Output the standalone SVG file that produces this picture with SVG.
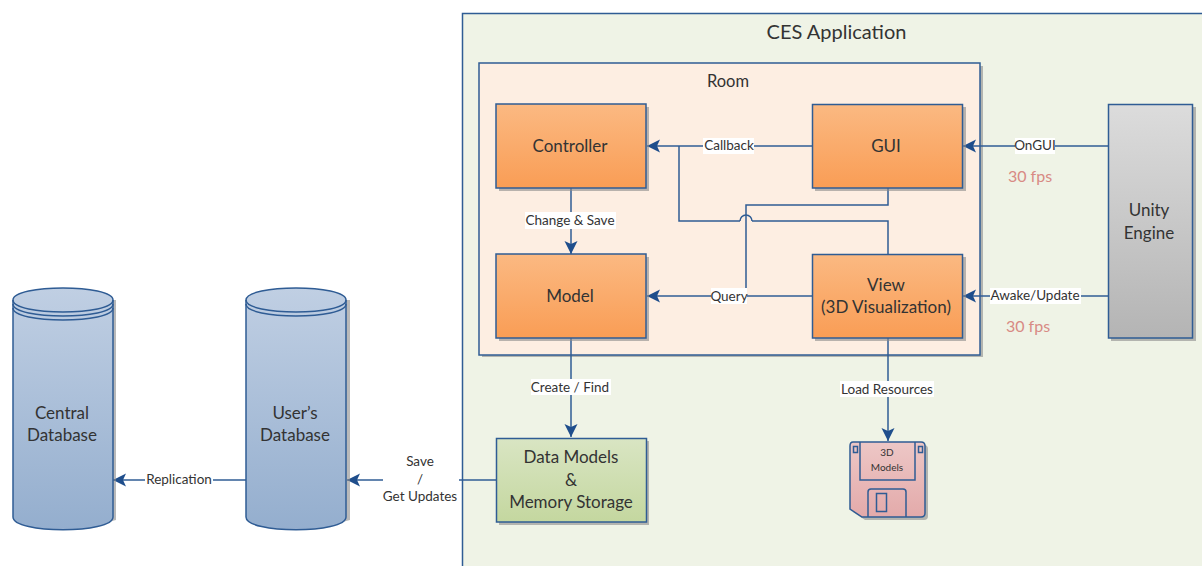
<svg xmlns="http://www.w3.org/2000/svg" width="1202" height="566" viewBox="0 0 1202 566">
<defs>
<linearGradient id="or" x1="0" y1="0" x2="0" y2="1"><stop offset="0" stop-color="#fbb982"/><stop offset="1" stop-color="#f99d55"/></linearGradient>
<linearGradient id="gr" x1="0" y1="0" x2="0" y2="1"><stop offset="0" stop-color="#dcdcdc"/><stop offset="1" stop-color="#b4b4b4"/></linearGradient>
<linearGradient id="bl" x1="0" y1="0" x2="0" y2="1"><stop offset="0" stop-color="#c0cfe3"/><stop offset="1" stop-color="#94aece"/></linearGradient>
<linearGradient id="gn" x1="0" y1="0" x2="0" y2="1"><stop offset="0" stop-color="#d9e5c3"/><stop offset="1" stop-color="#c4d79f"/></linearGradient>
<linearGradient id="pk" x1="0" y1="0" x2="0" y2="1"><stop offset="0" stop-color="#edc7c6"/><stop offset="1" stop-color="#e3aaaa"/></linearGradient>
<marker id="a" markerUnits="userSpaceOnUse" markerWidth="14" markerHeight="14" refX="13" refY="7" orient="auto"><path d="M0,0.5 L13,7 L0,13.500 L3,7 Z" fill="#1f4e8c"/></marker>
</defs>
<style>
text{font-family:Lato,"Open Sans","Liberation Sans",sans-serif;fill:#333;text-anchor:middle}
.n{font-size:17px}
.l{font-size:13.500px}
.w{fill:#fff}
.b{stroke:#2f5c94;stroke-width:1.500}
.s{fill:#8a8a8a;opacity:.6}
.c{fill:none;stroke:#2f5c94;stroke-width:1.500}
.e{marker-end:url(#a)}
.r{fill:#d88a84;font-size:16px}
</style>
<g id="app"><rect x="462.500" y="13.500" width="760" height="580" fill="#eff3e6" stroke="#2f5c94" stroke-width="1.500"/><text x="836.500" y="39" font-size="20">CES Application</text></g>
<g id="room"><rect x="482" y="66" width="501" height="291" class="s"/><rect x="479" y="63" width="501" height="292" fill="#fdeee2" class="b"/><text x="728" y="87" style="font-size:16.500px">Room</text></g>
<g id="connectors">
<path class="c e" d="M812,146H647"/>
<path class="c" d="M888,254V221H679V146"/>
<path class="c e" d="M812,296H647"/>
<path class="c e" d="M571,188V254"/>
<path class="c e" d="M1108,146H963"/>
<path class="c e" d="M1108,296H963"/>
<path class="c e" d="M571,338V437"/>
<path class="c e" d="M888,338V441"/>
<path class="c e" d="M496,480H347"/>
<path class="c e" d="M246,480H113"/>
<path d="M740,221h12" stroke="#fdeee2" stroke-width="3" fill="none"/>
<path class="c" d="M740,221a6,6 0 0 1 12,0"/>
<path class="c" d="M888,188V205H746V289"/>
</g>
<g id="labels">
<rect x="703" y="138" width="51" height="16" class="w"/><text x="729" y="150" class="l">Callback</text>
<rect x="711" y="288" width="36" height="16" class="w"/><text x="729" y="301" class="l">Query</text>
<rect x="525" y="212" width="91" height="17" class="w"/><text x="570" y="225" class="l">Change &amp; Save</text>
<rect x="1015" y="138" width="40" height="16" class="w"/><text x="1035" y="150" class="l">OnGUI</text>
<rect x="990" y="288" width="91" height="16" class="w"/><text x="1035" y="300" class="l">Awake/Update</text>
<rect x="531" y="379" width="80" height="16" class="w"/><text x="570" y="392" class="l">Create / Find</text>
<rect x="840" y="381" width="94" height="16" class="w"/><text x="887" y="394" class="l">Load Resources</text>
<rect x="145" y="472" width="68" height="16" class="w"/><text x="179" y="484" class="l">Replication</text>
<rect x="383" y="452" width="76" height="56" class="w"/>
<text x="420" y="466" class="l">Save</text><text x="420" y="484" class="l">/</text><text x="420" y="501" class="l">Get Updates</text>
<text x="1030" y="182" class="r">30 fps</text>
<text x="1028" y="332" class="r">30 fps</text>
</g>
<g id="controller"><rect x="499" y="107" width="150" height="84" class="s"/><rect x="496" y="104" width="150" height="84" fill="url(#or)" class="b"/><text x="570" y="152" class="n">Controller</text></g>
<g id="gui"><rect x="815" y="107" width="151" height="84" class="s"/><rect x="812.500" y="104.500" width="150" height="83.500" fill="url(#or)" class="b"/><text x="886" y="152" class="n">GUI</text></g>
<g id="model"><rect x="499" y="257" width="150" height="84" class="s"/><rect x="496" y="254" width="150" height="84" fill="url(#or)" class="b"/><text x="570" y="302" class="n">Model</text></g>
<g id="view"><rect x="815" y="257" width="151" height="84" class="s"/><rect x="812.500" y="254.500" width="150" height="83.500" fill="url(#or)" class="b"/><text x="886" y="291" class="n">View</text><text x="886" y="313" class="n">(3D Visualization)</text></g>
<g id="unity"><rect x="1111" y="107" width="85" height="234" class="s"/><rect x="1108.500" y="104.500" width="84" height="233.500" fill="url(#gr)" class="b"/><text x="1149" y="216" class="n">Unity</text><text x="1149" y="239" class="n">Engine</text></g>
<g id="data-models"><rect x="499" y="441" width="150" height="84" class="s"/><rect x="496.500" y="438.500" width="150" height="83.500" fill="url(#gn)" class="b"/><text x="571" y="463" class="n">Data Models</text><text x="571" y="486" class="n">&amp;</text><text x="571" y="508" class="n">Memory Storage</text></g>
<g id="central-db">
<path d="M15,300V520Q63,536 116,520V300Z" class="s"/>
<path d="M13,300C13,284 113,284 113,300V517C113,534 13,534 13,517Z" fill="url(#bl)" class="b"/>
<path d="M13,300C13,316 113,316 113,300M13,304C13,320 113,320 113,304M13,308C13,324 113,324 113,308" fill="none" class="b"/>
<text x="62" y="419" class="n">Central</text><text x="62" y="441" class="n">Database</text>
</g>
<g id="users-db">
<path d="M249,300V520Q297,536 350,520V300Z" class="s"/>
<path d="M246,300C246,284 346,284 346,300V517C346,534 246,534 246,517Z" fill="url(#bl)" class="b"/>
<path d="M246,300C246,316 346,316 346,300M246,304C246,320 346,320 346,304" fill="none" class="b"/>
<text x="295" y="419" class="n">User’s</text><text x="295" y="441" class="n">Database</text>
</g>
<g id="models-3d">
<path d="M854,445H924Q928,445 928,449V516Q928,520 924,520H865L853,512Z" class="s"/>
<path d="M853,442H921Q925,442 925,446V513Q925,517 921,517H862L850,509V446Q850,442 853,442Z" fill="url(#pk)" class="b"/>
<path d="M860,442V480H915V442" fill="none" class="b"/>
<path d="M868,517V492Q868,489 871,489H903Q906,489 906,492V517" fill="none" class="b"/>
<rect x="876.500" y="493.500" width="10" height="18" fill="none" class="b"/>
<rect x="853.500" y="446.500" width="4" height="6" fill="none" class="b"/>
<rect x="918.500" y="446.500" width="4" height="6" fill="none" class="b"/>
<text x="887" y="456" font-size="10">3D</text><text x="887" y="471" font-size="10">Models</text>
</g>
</svg>
